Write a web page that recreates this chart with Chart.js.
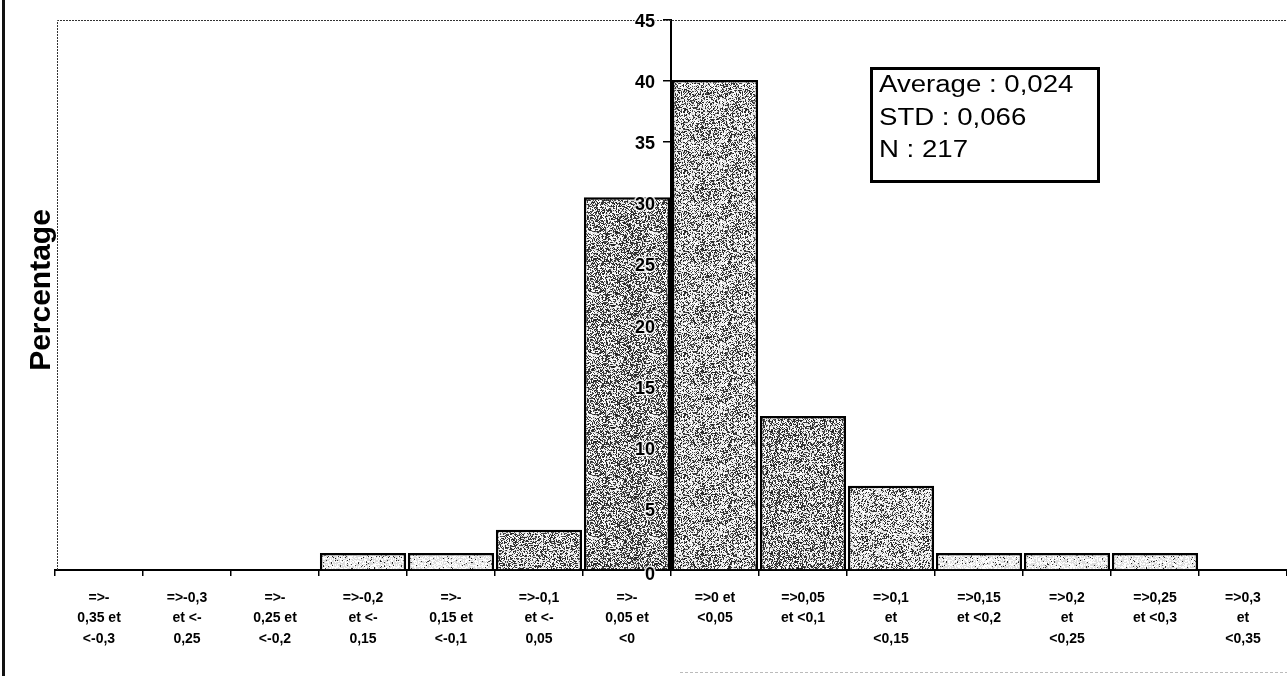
<!DOCTYPE html>
<html>
<head>
<meta charset="utf-8">
<script src="https://cdn.jsdelivr.net/npm/chart.js@4.4.1/dist/chart.umd.min.js"></script>
<style>
  html, body { margin: 0; padding: 0; background: #ffffff; }
  canvas { display: block; }
</style>
</head>
<body>
<canvas id="histo" width="1287" height="676"></canvas>
<script>
// Class intervals (each label wraps over several lines)
const categories = [
  ['=>-', '0,35 et', '<-0,3'],
  ['=>-0,3', 'et <-', '0,25'],
  ['=>-', '0,25 et', '<-0,2'],
  ['=>-0,2', 'et <-', '0,15'],
  ['=>-', '0,15 et', '<-0,1'],
  ['=>-0,1', 'et <-', '0,05'],
  ['=>-', '0,05 et', '<0'],
  ['=>0 et', '<0,05'],
  ['=>0,05', 'et <0,1'],
  ['=>0,1', 'et', '<0,15'],
  ['=>0,15', 'et <0,2'],
  ['=>0,2', 'et', '<0,25'],
  ['=>0,25', 'et <0,3'],
  ['=>0,3', 'et', '<0,35']
];

// Share of observations in each interval (%)
const percentages = [0, 0, 0, 1.4, 1.4, 3.3, 30.5, 40.1, 12.6, 6.9, 1.4, 1.4, 1.4, 0];

// Value axis ticks
const yTickValues = [0, 5, 10, 15, 20, 25, 30, 35, 40, 45];

// Summary statistics
const statsLines = ['Average : 0,024', 'STD : 0,066', 'N : 217'];

// Ink density of the stippled fill used for each bar
const inkDensity = [0.06, 0.06, 0.06, 0.07, 0.07, 0.40, 0.48, 0.38, 0.43, 0.35, 0.06, 0.06, 0.06, 0.06];

const canvas = document.getElementById('histo');
const ctx = canvas.getContext('2d');

function hash(x, y, s) {
  let h = (Math.imul(x, 374761393) + Math.imul(y, 668265263) + Math.imul(s, 2246822519)) | 0;
  h = Math.imul(h ^ (h >>> 13), 1274126177);
  h ^= h >>> 16;
  return h >>> 0;
}

// Printed-halftone style fill
function stipple(density, seed) {
  const size = 61;
  const c = document.createElement('canvas');
  c.width = size; c.height = size;
  const g = c.getContext('2d');
  const img = g.createImageData(size, size);
  for (let y = 0; y < size; y++) {
    for (let x = 0; x < size; x++) {
      const h = hash(x, y, seed);
      const t = (h & 1023) / 1023;
      const v = t < density ? 25 + ((h >>> 10) & 63) : 220 + ((h >>> 16) & 35);
      const i = (y * size + x) * 4;
      img.data[i] = img.data[i + 1] = img.data[i + 2] = v;
      img.data[i + 3] = 255;
    }
  }
  g.putImageData(img, 0, 0);
  return ctx.createPattern(c, 'repeat');
}

const fills = inkDensity.map((d, i) => stipple(d, i + 1));

const decorations = {
  id: 'decorations',
  beforeDatasetsDraw(chart) {
    const { ctx, chartArea: a } = chart;
    ctx.save();
    // dotted plot-area frame (top and left)
    ctx.strokeStyle = '#333';
    ctx.lineWidth = 1;
    ctx.setLineDash([2, 1]);
    ctx.beginPath();
    ctx.moveTo(a.left + 2.5, a.bottom);
    ctx.lineTo(a.left + 2.5, a.top + 0.5);
    ctx.lineTo(a.right, a.top + 0.5);
    ctx.stroke();
    ctx.restore();
  },
  afterDatasetsDraw(chart) {
    // value-axis labels, haloed so they stay legible over the bars
    const { ctx } = chart;
    const ys = chart.scales.y;
    const axisX = chart.scales.x.getPixelForValue(6.5);
    ctx.save();
    ctx.font = 'bold 18px "Liberation Sans", Arial, sans-serif';
    ctx.textAlign = 'right';
    ctx.textBaseline = 'middle';
    ctx.lineJoin = 'round';
    yTickValues.forEach(v => {
      const py = ys.getPixelForValue(v) + (v === 0 ? 5 : 2);
      const txt = String(v);
      ctx.strokeStyle = 'rgba(255,255,255,0.85)';
      ctx.lineWidth = 3;
      ctx.strokeText(txt, axisX - 16, py);
      ctx.fillStyle = '#000';
      ctx.fillText(txt, axisX - 16, py);
    });
    ctx.restore();
  },
  afterDraw(chart) {
    const { ctx } = chart;
    ctx.save();
    // outer frame: left rule and faint bottom rule
    ctx.fillStyle = '#111';
    ctx.fillRect(2, 0, 3, chart.height);
    ctx.strokeStyle = '#bbb';
    ctx.lineWidth = 1;
    ctx.setLineDash([3, 2]);
    ctx.beginPath();
    ctx.moveTo(680, 672.5);
    ctx.lineTo(chart.width, 672.5);
    ctx.stroke();
    ctx.setLineDash([]);

    // value-axis title
    ctx.save();
    ctx.translate(50, 290);
    ctx.rotate(-Math.PI / 2);
    ctx.fillStyle = '#000';
    ctx.font = 'bold 30px "Liberation Sans", Arial, sans-serif';
    ctx.textAlign = 'center';
    ctx.textBaseline = 'alphabetic';
    ctx.fillText('Percentage', 0, 0);
    ctx.restore();

    // statistics box
    const bx = 870, by = 67, bw = 230, bh = 116;
    ctx.fillStyle = '#fff';
    ctx.fillRect(bx, by, bw, bh);
    ctx.strokeStyle = '#000';
    ctx.lineWidth = 3;
    ctx.strokeRect(bx + 1.5, by + 1.5, bw - 3, bh - 3);
    ctx.fillStyle = '#000';
    ctx.font = '23px "Liberation Sans", Arial, sans-serif';
    ctx.textAlign = 'left';
    ctx.textBaseline = 'alphabetic';
    statsLines.forEach((line, i) => {
      ctx.save();
      ctx.translate(bx + 9, by + 25 + i * 32.5);
      ctx.scale(1.2, 1);
      ctx.fillText(line, 0, 0);
      ctx.restore();
    });
    ctx.restore();
  }
};

new Chart(ctx, {
  type: 'bar',
  data: {
    labels: categories,
    datasets: [{
      data: percentages,
      backgroundColor: fills,
      borderColor: '#000',
      borderWidth: 2.5,
      barPercentage: 0.98,
      categoryPercentage: 1.0
    }]
  },
  options: {
    responsive: false,
    animation: false,
    devicePixelRatio: 1,
    layout: { padding: { left: 55, top: 20, right: 0, bottom: 0 } },
    plugins: {
      legend: { display: false },
      tooltip: { enabled: false },
      title: { display: false }
    },
    scales: {
      x: {
        grid: {
          display: true,
          drawOnChartArea: false,
          drawTicks: true,
          tickLength: 6,
          color: '#000',
          lineWidth: 1.5
        },
        border: { display: true, color: '#000', width: 2 },
        ticks: {
          color: '#000',
          autoSkip: false,
          maxRotation: 0,
          minRotation: 0,
          padding: 12,
          font: { family: '"Liberation Sans", Arial, sans-serif', size: 14, weight: 'bold', lineHeight: 1.45 }
        },
        afterFit(scale) { scale.height = 106; }
      },
      y: {
        position: { x: 6.5 },
        min: 0,
        max: 45,
        afterBuildTicks(scale) { scale.ticks = yTickValues.map(v => ({ value: v })); },
        grid: {
          display: true,
          drawOnChartArea: false,
          drawTicks: true,
          tickLength: 7,
          color: '#000',
          lineWidth: 1.5
        },
        border: { display: true, color: '#000', width: 2 },
        ticks: { display: false }
      }
    }
  },
  plugins: [decorations]
});
</script>
</body>
</html>
